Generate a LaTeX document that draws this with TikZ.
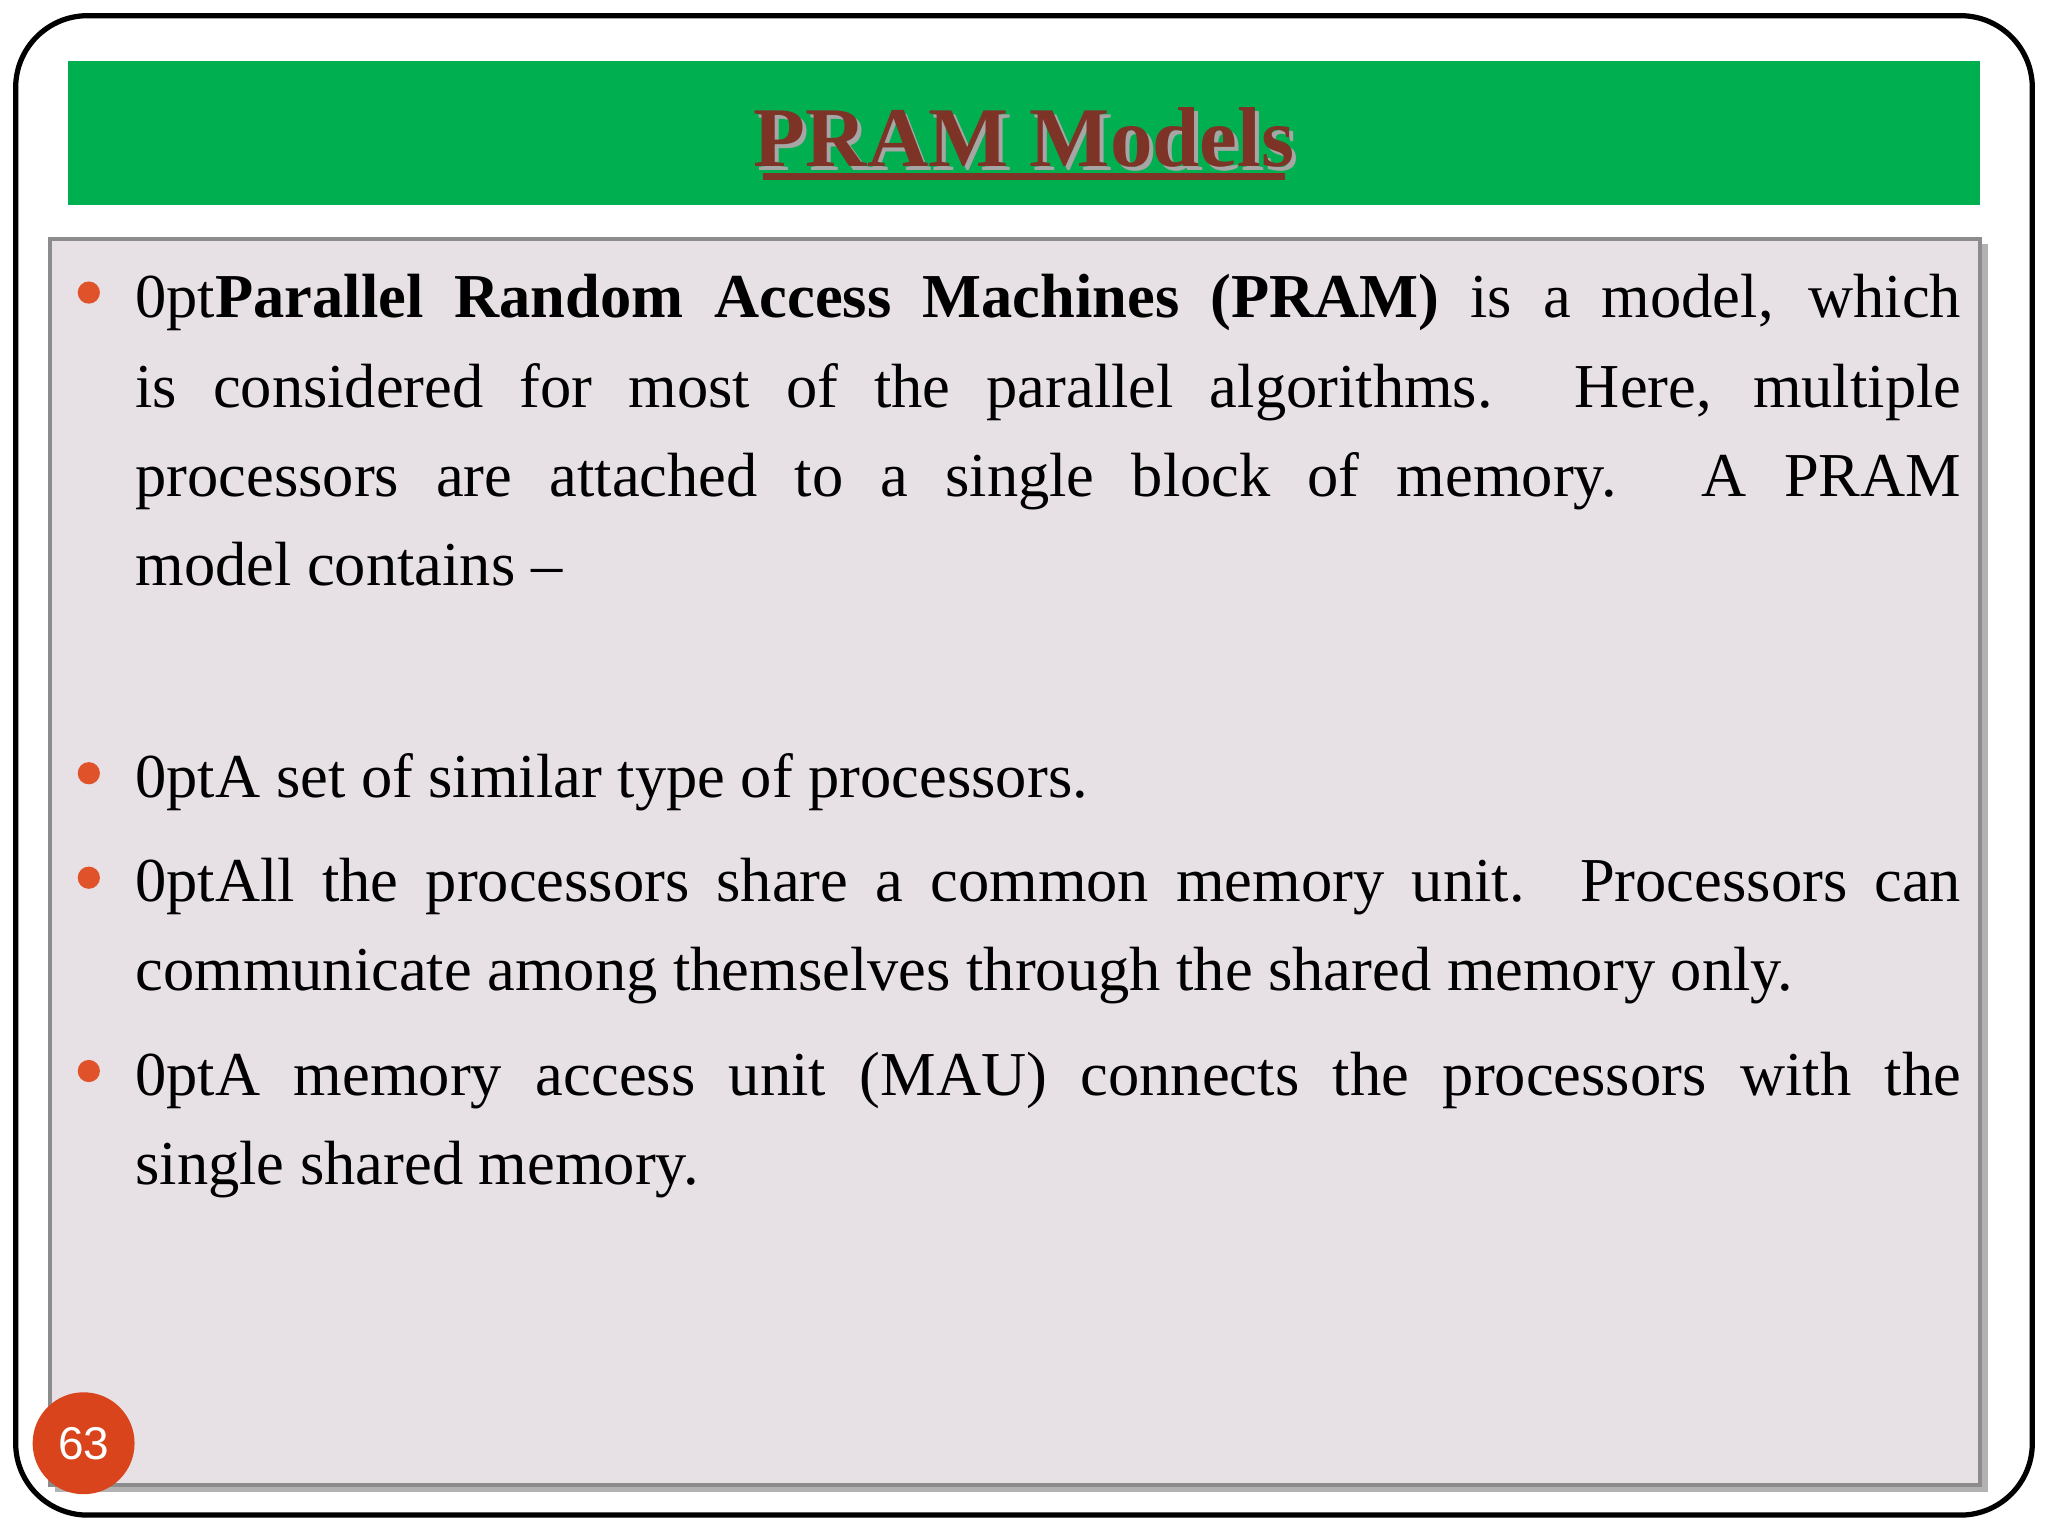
\documentclass[tikz,border=0pt]{standalone}
\usepackage{fontspec}
\setmainfont{Liberation Serif}
\newfontfamily\numfont{Liberation Sans}
\usetikzlibrary{positioning}
\definecolor{slidegreen}{HTML}{00B050}
\definecolor{boxfill}{HTML}{E7E1E5}
\definecolor{boxline}{HTML}{8C8C8C}
\definecolor{bulletred}{HTML}{E0522A}
\definecolor{titlered}{HTML}{7E3327}
\definecolor{numred}{HTML}{D9441C}
\tikzset{
  bullet/.style = {circle, fill = bulletred, minimum size = 0.17cm, inner sep = 0pt},
  para/.style = {anchor = north west, inner sep = 0pt, text width = 13.97cm, align = justify,
                 font = \fontsize{13.6}{19.4}\selectfont\hyphenpenalty=10000}
}
\begin{document}
\begin{tikzpicture}[x = 0.01cm, y = -0.01cm]
			\useasboundingbox (0, 0) rectangle (1568, 1176);
			%\draw[help lines] (0,0) grid (1568,1176);
			\draw[line width = 0.04cm, rounded corners = 0.55cm] (12, 12) rectangle (1556, 1160);
			\fill[slidegreen] (52, 47) rectangle (1516, 157);
			\fill[gray!60] (42, 187) rectangle (1522, 1142);
			\draw[boxline, fill = boxfill, line width = 0.03cm] (38, 183) rectangle (1516, 1137);

			\node[gray!70, font = \fontsize{18.5}{22}\bfseries] at (787, 108) {PRAM Models};
			\node[titlered, font = \fontsize{18.5}{22}\bfseries] (title) at (784, 105) {PRAM Models};
			\draw[titlered, line width = 0.05cm] (584, 135) -- (984, 135);

			\node[bullet] (b1) at (68, 224) {};
			\node[bullet] (b2) at (68, 592) {};
			\node[bullet] (b3) at (68, 672) {};
			\node[bullet] (b4) at (68, 820) {};

			\node[para] (p1) at (103, 195) {\strut\textbf{Parallel Random Access Machines (PRAM)} is a model, which\linebreak is considered for most of the parallel algorithms. Here, multiple\linebreak processors are attached to a single block of memory. A PRAM\linebreak model contains \textendash};
			\node[para] (p2) at (103, 562) {\strut A set of similar type of processors.};
			\node[para] (p3) at (103, 642) {\strut All the processors share a common memory unit. Processors can\linebreak communicate among themselves through the shared memory only.};
			\node[para] (p4) at (103, 790) {\strut A memory access unit (MAU) connects the processors with the\linebreak single shared memory.};

			\node[circle, fill = numred, minimum size = 0.78cm, inner sep = 0pt, text = white,
			      font = \numfont\fontsize{10}{12}\selectfont] (num) at (64, 1105) {63};
		\end{tikzpicture}
\end{document}
